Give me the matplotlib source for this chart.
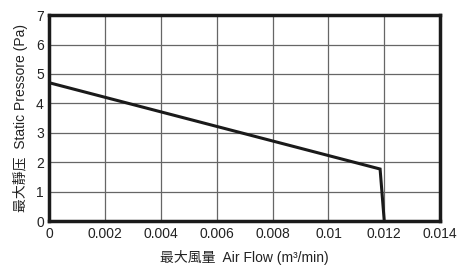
import matplotlib
matplotlib.use("Agg")
import matplotlib.pyplot as plt

plt.rcParams['font.family'] = ['Liberation Sans', 'Noto Sans CJK TC', 'DejaVu Sans']

flow = [0.0, 0.01185, 0.0120]
pressure = [4.7, 1.77, 0.0]
xticks = [0, 0.002, 0.004, 0.006, 0.008, 0.01, 0.012, 0.014]
xticklabels = ['0', '0.002', '0.004', '0.006', '0.008', '0.01', '0.012', '0.014']
yticks = [0, 1, 2, 3, 4, 5, 6, 7]

fig = plt.figure(figsize=(4.57, 2.69), dpi=100)
ax = fig.add_axes([0.108, 0.178, 0.855, 0.766])
ax.plot(flow, pressure, color='#1a1a1a', lw=2.2, solid_joinstyle='miter', zorder=3)
ax.set_xlim(0, 0.014)
ax.set_ylim(0, 7)
ax.set_xticks(xticks)
ax.set_xticklabels(xticklabels)
ax.set_yticks(yticks)
ax.grid(True, color='#666666', lw=0.9)
ax.tick_params(length=0, labelsize=10, colors='#222222', pad=4)
for s in ax.spines.values():
    s.set_linewidth(2.5)
    s.set_color('#1a1a1a')
ax.set_xlabel('最大風量  Air Flow (m³/min)', fontsize=10, color='#222222', labelpad=7)
ax.set_ylabel('最大靜压  Static Pressore (Pa)', fontsize=10, color='#222222', labelpad=6)
fig.savefig('out.png', dpi=100)
